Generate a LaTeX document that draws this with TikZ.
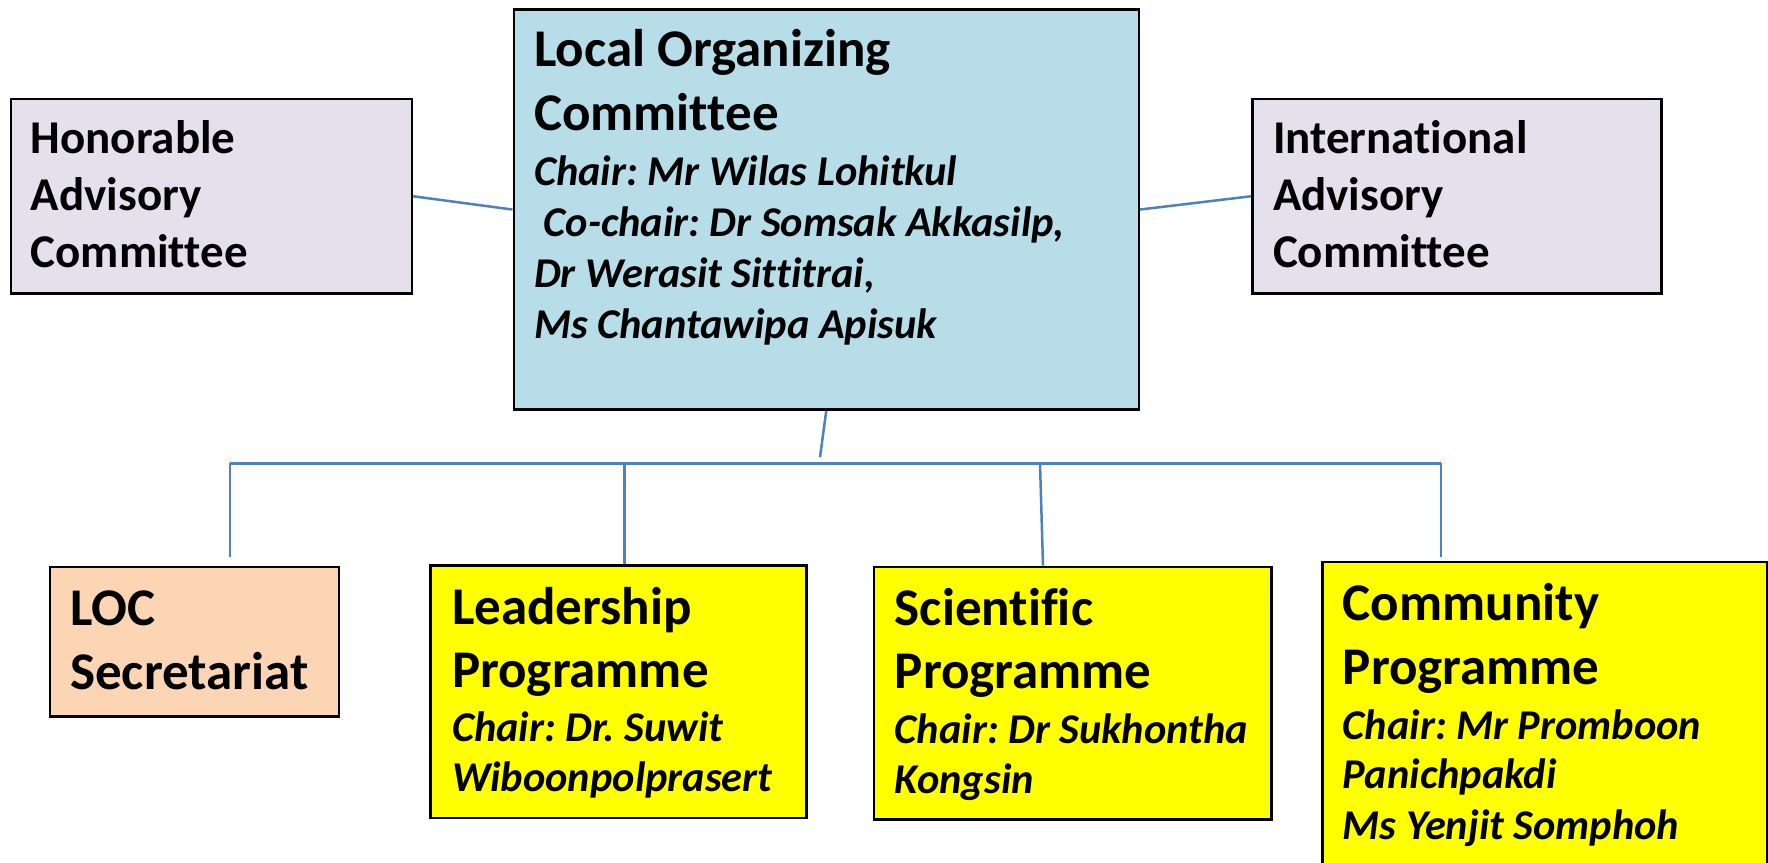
\documentclass[tikz,border=0pt]{standalone}
\usepackage{fontspec}
\setmainfont{Carlito}[Ligatures={NoCommon,NoRequired,NoContextual}]
\frenchspacing
\definecolor{locblue}{HTML}{B7DDE8}
\definecolor{lav}{HTML}{E5E0EC}
\definecolor{peach}{HTML}{FCD5B5}
\definecolor{ylw}{HTML}{FFFF00}
\definecolor{conn}{HTML}{4F81BD}
\tikzset{
  box/.style={draw=black, line width=2.5pt, rectangle, inner sep=0pt, anchor=north west},
  link/.style={draw=conn, line width=2.5pt},
  tsmall/.style={anchor=base west, inner sep=0pt, font=\bfseries\fontsize{47}{56}\selectfont},
  tbig/.style={anchor=base west, inner sep=0pt, font=\bfseries\fontsize{53}{63}\selectfont},
  tit/.style={anchor=base west, inner sep=0pt, font=\bfseries\itshape\fontsize{42.4}{50}\selectfont},
}
\begin{document}
\begin{tikzpicture}[x=1pt,y=-1pt]
\useasboundingbox (0,0) rectangle (1768,862);
\clip (0,0) rectangle (1768,862);
\fill[white] (0,0) rectangle (1768,862);
% boxes
\node[box, fill=lav, minimum width=401pt, minimum height=194.6pt] (hon) at (9.6,97.7) {};
\node[box, fill=locblue, minimum width=625pt, minimum height=400pt] (loc) at (512.5,8.3) {};
\node[box, fill=lav, minimum width=408.8pt, minimum height=194.6pt] (int) at (1251.2,97.7) {};
\node[box, fill=peach, minimum width=288.7pt, minimum height=149.3pt] (sec) at (48.8,565.7) {};
\node[box, fill=ylw, minimum width=376pt, minimum height=252.7pt] (lead) at (429.4,564) {};
\node[box, fill=ylw, minimum width=397.3pt, minimum height=252.6pt] (sci) at (872.7,565.7) {};
\node[box, fill=ylw, minimum width=444.5pt, minimum height=330pt] (com) at (1321,560.5) {};
% connector points
\coordinate (stemend) at (820,457.3);
\coordinate (busL) at (230,463.3);
\coordinate (busR) at (1441,463.3);
\coordinate (busLead) at (624.6,463.3);
\coordinate (busSci) at (1040,463.3);
\coordinate (secend) at (230,556.7);
\coordinate (leadend) at (624.6,564);
\coordinate (sciend) at (1043,565.7);
\coordinate (comend) at (1441,556.7);
% connectors
\draw[link] (hon.east) -- (loc.west);
\draw[link] (loc.east) -- (int.west);
\draw[link] (loc.south) -- (stemend);
\draw[link] (busL) -- (busR);
\draw[link] (busL) -- (secend);
\draw[link] (busLead) -- (leadend);
\draw[link] (busSci) -- (sciend);
\draw[link] (busR) -- (comend);
% texts
\node[tsmall] (h1) at (30.6,153) {Honorable};
\node[tsmall] (h2) at (30.6,210.3) {Advisory};
\node[tsmall] (h3) at (30.6,267.7) {Committee};
\node[tsmall] (i1) at (1272.8,153) {International};
\node[tsmall] (i2) at (1272.8,210.3) {Advisory};
\node[tsmall] (i3) at (1272.8,267.7) {Committee};
\node[tbig] (l1) at (534,66.7) {Local Organizing};
\node[tbig] (l2) at (534,130) {Committee};
\node[tit] (l3) at (534,185) {Chair: Mr Wilas Lohitkul};
\node[tit] (l4) at (543.5,236.7) {Co-chair: Dr Somsak Akkasilp,};
\node[tit] (l5) at (534,287.3) {Dr Werasit Sittitrai,};
\node[tit] (l6) at (534,338.3) {Ms Chantawipa Apisuk};
\node[tbig] (s1) at (70,625) {LOC};
\node[tbig] (s2) at (70,689.3) {Secretariat};
\node[tbig] (p1) at (451.8,624) {Leadership};
\node[tbig] (p2) at (451.8,687.3) {Programme};
\node[tit] (p3) at (451.8,741.7) {Chair: Dr. Suwit};
\node[tit] (p4) at (451.8,791.7) {Wiboonpolprasert};
\node[tbig] (c1) at (894.7,625) {Scientific};
\node[tbig] (c2) at (894.7,688.3) {Programme};
\node[tit] (c3) at (894.7,743.3) {Chair: Dr Sukhontha};
\node[tit] (c4) at (894.7,793.3) {Kongsin};
\node[tbig] (m1) at (1342.7,620) {Community};
\node[tbig] (m2) at (1342.7,684) {Programme};
\node[tit] (m3) at (1342.7,739) {Chair: Mr Promboon};
\node[tit] (m4) at (1342.7,788.3) {Panichpakdi};
\node[tit] (m5) at (1342.7,839) {Ms Yenjit Somphoh};
\end{tikzpicture}
\end{document}
